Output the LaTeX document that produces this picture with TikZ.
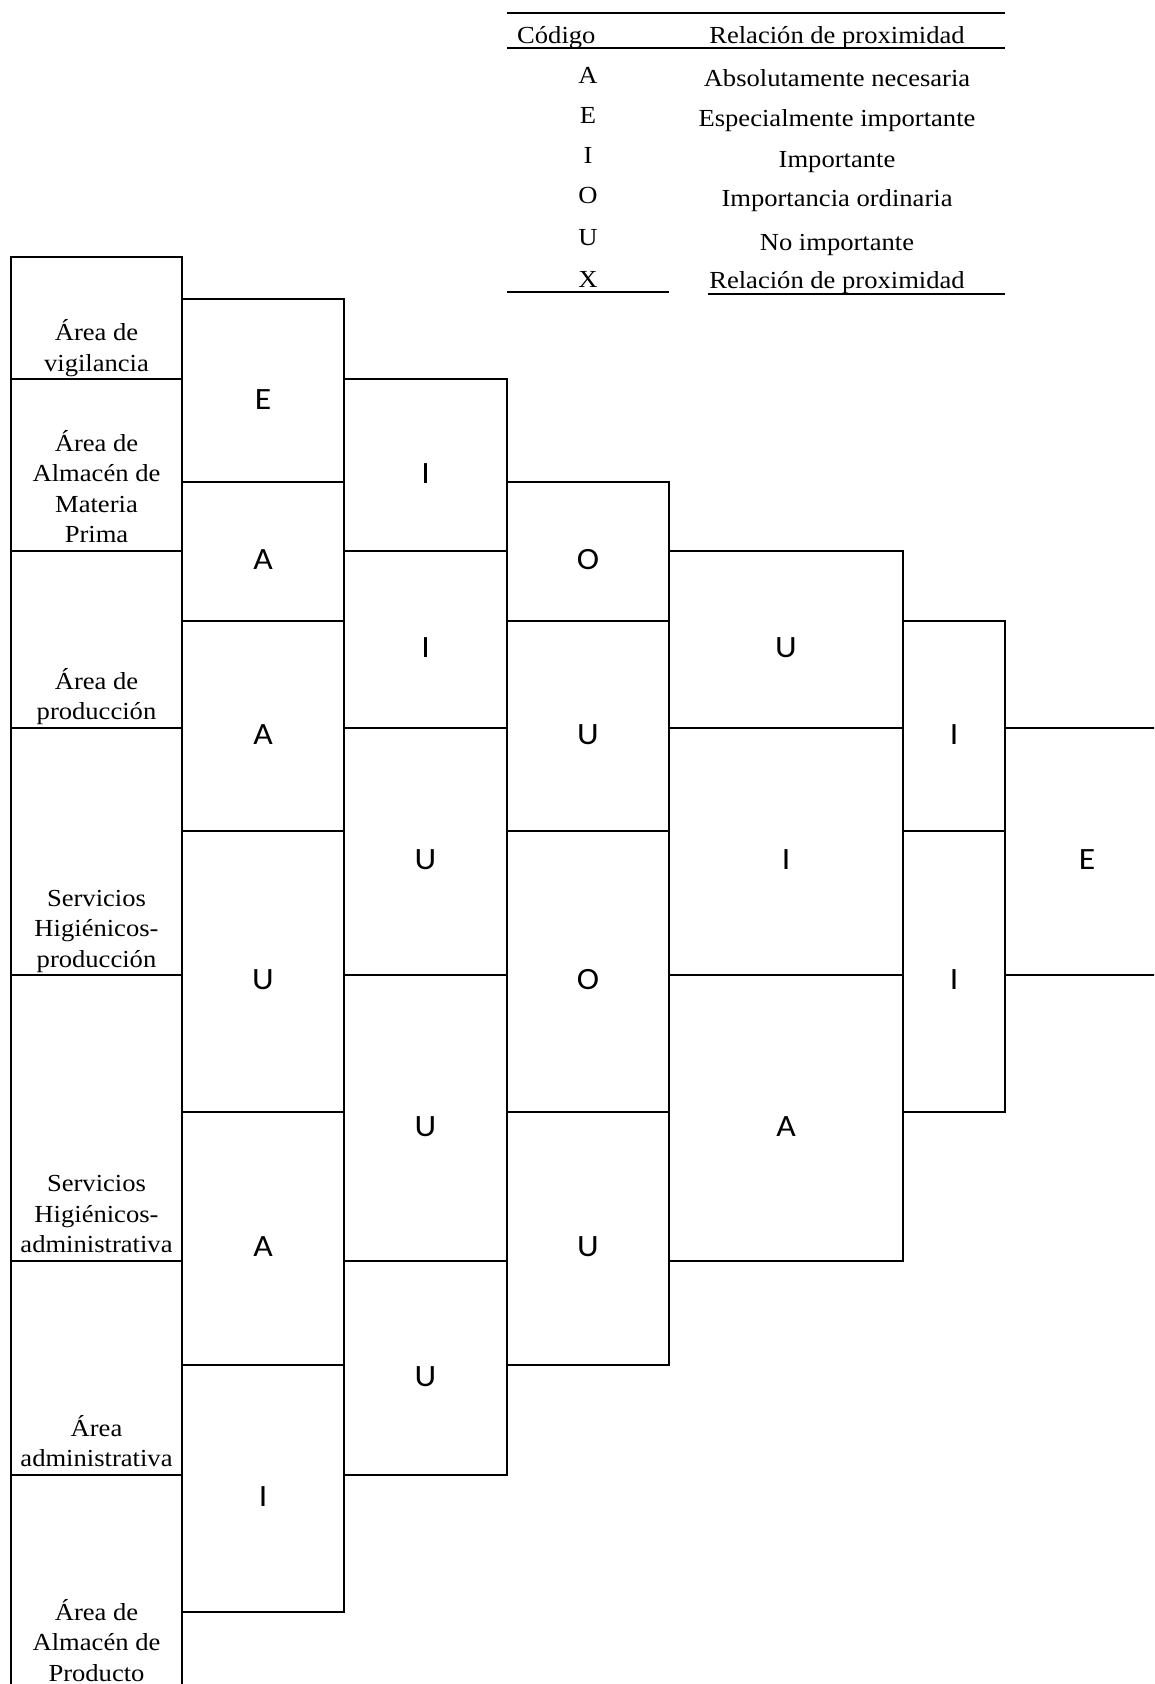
\documentclass[tikz,border=0pt]{standalone}
\usepackage{fontspec}
\usepackage{graphicx}
\setmainfont{Liberation Serif}
\newfontfamily\calfont{Carlito}
\newcommand{\hsx}[1]{\scalebox{1.085}[1]{#1}}
\newcommand{\areafont}{\fontsize{24.5}{30.5}\selectfont}
\newcommand{\relfont}{\calfont\fontsize{31}{34}\selectfont}
\newcommand{\relcell}[6]{%
  \node[relbox, minimum width={(#4-#2)*1pt}, minimum height={(#5-#3)*1pt}] (#1) at ({(#2+#4)/2},{(#3+#5)/2}) {\hsx{#6}};}
\newcommand{\areacell}[6]{%
  \node[areabox, minimum width={(#4-#2)*1pt}, minimum height={(#5-#3)*1pt}] (#1) at ({(#2+#4)/2},{(#3+#5)/2}) {};
  \node[areatext] (#1t) at (#1.south) {#6\rule[-7.8pt]{0pt}{0pt}};}
\begin{document}
\begin{tikzpicture}[x=1pt,y=-1pt,
  grid/.style={draw, line width=2pt, rectangle, inner sep=0pt, outer sep=0pt},
  relbox/.style={grid, font=\relfont, text height=37pt, text depth=0pt},
  areabox/.style={grid},
  areatext/.style={anchor=south, align=center, inner sep=0pt, font=\areafont},
  legrule/.style={line width=2pt},
  legtext/.style={inner sep=0pt, font=\areafont},
]
\useasboundingbox (0,0) rectangle (1154,1684);
\clip (0,0) rectangle (1154,1684);

% ---- legend ----
\draw[legrule] (507,13) -- (1005,13);
\draw[legrule] (507,48) -- (1005,48);
\draw[legrule] (507,292) -- (669,292);
\draw[legrule] (708,294) -- (1005,294);
\node[legtext, anchor=base west] (hcod) at (517,43.5) {\hsx{Código}};
\node[legtext, anchor=base] (hrel) at (837,43.2) {\hsx{Relación de proximidad}};
\node[legtext, anchor=base] (kA) at (588,83.2) {\hsx{A}};
\node[legtext, anchor=base] (kE) at (588,123.8) {\hsx{E}};
\node[legtext, anchor=base] (kI) at (588,163.8) {\hsx{I}};
\node[legtext, anchor=base] (kO) at (588,203.8) {\hsx{O}};
\node[legtext, anchor=base] (kU) at (588,245.5) {\hsx{U}};
\node[legtext, anchor=base] (kX) at (588,287) {\hsx{X}};
\node[legtext, anchor=base] (dA) at (837,86) {\hsx{Absolutamente necesaria}};
\node[legtext, anchor=base] (dE) at (837,126.3) {\hsx{Especialmente importante}};
\node[legtext, anchor=base] (dI) at (837,167) {\hsx{Importante}};
\node[legtext, anchor=base] (dO) at (837,206.5) {\hsx{Importancia ordinaria}};
\node[legtext, anchor=base] (dU) at (837,250.3) {\hsx{No importante}};
\node[legtext, anchor=base] (dX) at (837,288.8) {\hsx{Relación de proximidad}};

% ---- column 1: areas ----
\areacell{a1}{11}{256.7}{182}{379}{\hsx{Área de}\\\hsx{vigilancia}}
\areacell{a2}{11}{379}{182}{550.7}{\hsx{Área de}\\\hsx{Almacén de}\\\hsx{Materia}\\\hsx{Prima}}
\areacell{a3}{11}{550.7}{182}{727.7}{\hsx{Área de}\\\hsx{producción}}
\areacell{a4}{11}{727.7}{182}{975}{\hsx{Servicios}\\\hsx{Higiénicos-}\\\hsx{producción}}
\areacell{a5}{11}{975}{182}{1260.5}{\hsx{Servicios}\\\hsx{Higiénicos-}\\\hsx{administrativa}}
\areacell{a6}{11}{1260.5}{182}{1474.5}{\hsx{Área}\\\hsx{administrativa}}
\areacell{a7}{11}{1474.5}{182}{1689}{\hsx{Área de}\\\hsx{Almacén de}\\\hsx{Producto}}

% ---- column 2 ----
\relcell{c2a}{182}{299.3}{344}{481.7}{E}
\relcell{c2b}{182}{481.7}{344}{620.7}{A}
\relcell{c2c}{182}{620.7}{344}{830.5}{A}
\relcell{c2d}{182}{830.5}{344}{1111.5}{U}
\relcell{c2e}{182}{1111.5}{344}{1364.5}{A}
\relcell{c2f}{182}{1364.5}{344}{1612}{I}
% ---- column 3 ----
\relcell{c3a}{344}{379}{507}{550.7}{I}
\relcell{c3b}{344}{550.7}{507}{727.7}{I}
\relcell{c3c}{344}{727.7}{507}{975}{U}
\relcell{c3d}{344}{975}{507}{1260.5}{U}
\relcell{c3e}{344}{1260.5}{507}{1474.5}{U}
% ---- column 4 ----
\relcell{c4a}{507}{481.7}{669}{620.7}{O}
\relcell{c4b}{507}{620.7}{669}{830.5}{U}
\relcell{c4c}{507}{830.5}{669}{1111.5}{O}
\relcell{c4d}{507}{1111.5}{669}{1364.5}{U}
% ---- column 5 ----
\relcell{c5a}{669}{550.7}{903}{727.7}{U}
\relcell{c5b}{669}{727.7}{903}{975}{I}
\relcell{c5c}{669}{975}{903}{1260.5}{A}
% ---- column 6 ----
\relcell{c6a}{903}{620.7}{1005}{830.5}{I}
\relcell{c6b}{903}{830.5}{1005}{1111.5}{I}
% ---- column 7 ----
\relcell{c7a}{1005}{727.7}{1169}{975}{E}
\end{tikzpicture}
\end{document}
